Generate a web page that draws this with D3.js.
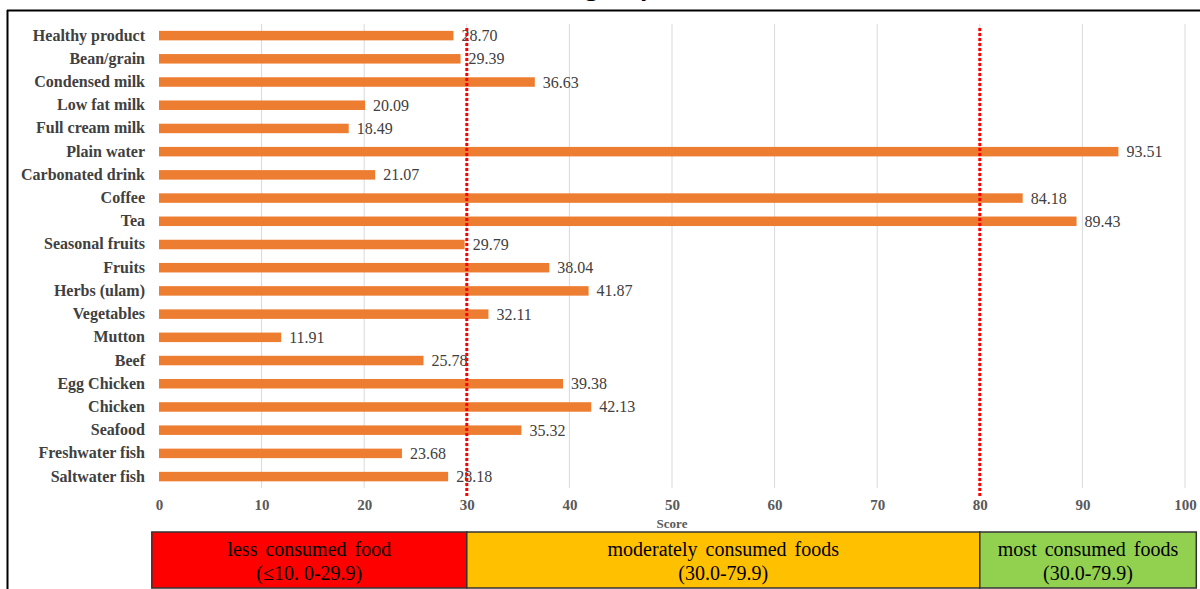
<!DOCTYPE html>
<html><head><meta charset="utf-8">
<script src="https://cdn.jsdelivr.net/npm/d3@7/dist/d3.min.js"></script>
<style>html,body{margin:0;padding:0;background:#fff;overflow:hidden}</style>
</head><body>
<svg id="c" width="1200" height="589"></svg>
<script>
const categories = ["Healthy product","Bean/grain","Condensed milk","Low fat milk","Full cream milk","Plain water","Carbonated drink","Coffee","Tea","Seasonal fruits","Fruits","Herbs (ulam)","Vegetables","Mutton","Beef","Egg Chicken","Chicken","Seafood","Freshwater fish","Saltwater fish"];
const scores = [28.70,29.39,36.63,20.09,18.49,93.51,21.07,84.18,89.43,29.79,38.04,41.87,32.11,11.91,25.78,39.38,42.13,35.32,23.68,28.18];
const xTicks = [0,10,20,30,40,50,60,70,80,90,100];
const thresholds = [30,80];
const bandLabels1 = ["less consumed food","moderately consumed foods","most consumed foods"];
const bandLabels2 = ["(\u226410. 0-29.9)","(30.0-79.9)","(30.0-79.9)"];
const bandStarts = [-0.7,30,80];
const bandEnds = [30,80,101.1];
const bandColors = ["#FF0000","#FFC000","#92D050"];
const titleText = "Food group";

const svg = d3.select("#c");
const x = d3.scaleLinear().domain([0,100]).range([159,1185]);
const y = d3.scaleBand().domain(categories).range([24,488.2]).paddingInner(0.6).paddingOuter(0.3);

// clipped title (only descenders visible, as in the reference)
svg.append("text").attr("x",588).attr("y",-5).attr("text-anchor","middle")
  .attr("font-family","'Open Sans', sans-serif").attr("font-size",24).attr("font-weight","bold")
  .attr("fill","#000").text(titleText);

// frame
svg.append("line").attr("x1",7).attr("x2",1200).attr("y1",10.5).attr("y2",10.5).attr("stroke","#000").attr("stroke-width",2);
svg.append("line").attr("x1",7.5).attr("x2",7.5).attr("y1",10).attr("y2",589).attr("stroke","#000").attr("stroke-width",2);

// gridlines
svg.append("g").selectAll("line").data(xTicks.slice(1)).join("line")
  .attr("x1",d=>x(d)).attr("x2",d=>x(d)).attr("y1",24).attr("y2",488)
  .attr("stroke","#D9D9D9").attr("stroke-width",1);

// bars
svg.append("g").selectAll("rect").data(categories).join("rect")
  .attr("x",x(0)).attr("y",d=>y(d)+y.bandwidth()/2-4.75)
  .attr("width",(d,i)=>x(scores[i])-x(0)).attr("height",9.5)
  .attr("fill","#ED7D31");

// value labels
svg.append("g").selectAll("text").data(categories).join("text")
  .attr("x",(d,i)=>x(scores[i])+8).attr("y",d=>y(d)+y.bandwidth()/2+5.5)
  .attr("font-family","'Liberation Serif', serif").attr("font-size",16)
  .attr("fill","#404040").text((d,i)=>scores[i].toFixed(2));

// category axis labels
svg.append("g").selectAll("text").data(categories).join("text")
  .attr("x",145).attr("y",d=>y(d)+y.bandwidth()/2+5).attr("text-anchor","end")
  .attr("font-family","'Liberation Serif', serif").attr("font-size",16).attr("font-weight","bold")
  .attr("fill","#404040").text(d=>d);

// x axis
const xAxis = d3.axisBottom(x).tickValues(xTicks).tickSize(0).tickPadding(0);
const gx = svg.append("g").attr("transform","translate(0,505)").call(xAxis);
gx.select(".domain").remove();
gx.selectAll("text").attr("font-family","'Liberation Serif', serif").attr("font-size",15)
  .attr("font-weight","bold").attr("fill","#595959").attr("dy","0.35em").attr("y",0);

svg.append("text").attr("x",672).attr("y",528).attr("text-anchor","middle")
  .attr("font-family","'Liberation Serif', serif").attr("font-size",13).attr("font-weight","bold")
  .attr("fill","#595959").text("Score");

// threshold dotted lines
svg.append("g").selectAll("line").data(thresholds).join("line")
  .attr("x1",d=>x(d)).attr("x2",d=>x(d)).attr("y1",28).attr("y2",497)
  .attr("stroke","#FF0000").attr("stroke-width",3).attr("stroke-dasharray","3,2");

// category bands
const bands = svg.append("g").selectAll("g").data(bandColors).join("g");
bands.append("rect").attr("x",(d,i)=>x(bandStarts[i])).attr("y",532)
  .attr("width",(d,i)=>x(bandEnds[i])-x(bandStarts[i])).attr("height",56)
  .attr("fill",d=>d).attr("stroke","#333").attr("stroke-width",1.5);
bands.append("text").attr("x",(d,i)=>(x(bandStarts[i])+x(bandEnds[i]))/2).attr("y",556)
  .attr("text-anchor","middle").attr("font-family","'Liberation Serif', serif").attr("font-size",20)
  .attr("word-spacing",3).attr("fill","#000").text((d,i)=>bandLabels1[i]);
bands.append("text").attr("x",(d,i)=>(x(bandStarts[i])+x(bandEnds[i]))/2).attr("y",580)
  .attr("text-anchor","middle").attr("font-family","'Liberation Serif', serif").attr("font-size",20)
  .attr("fill","#000").text((d,i)=>bandLabels2[i]);
</script>
</body></html>
